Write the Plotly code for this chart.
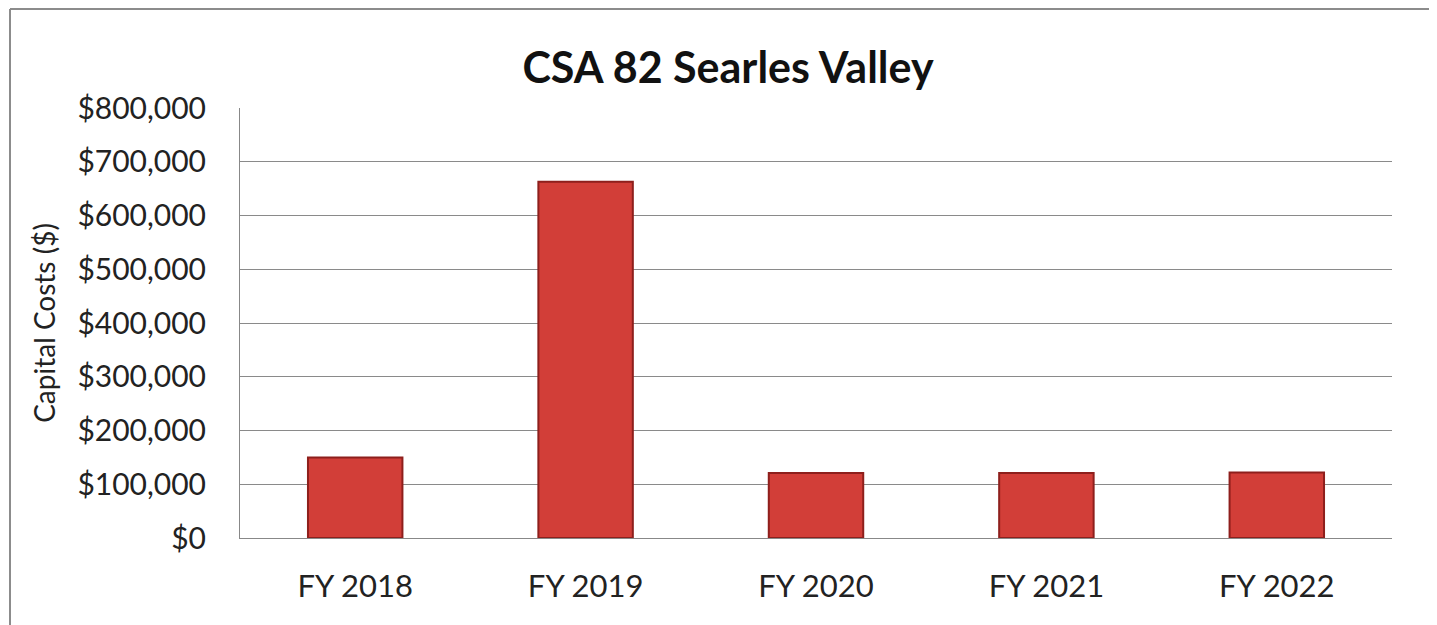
import plotly.graph_objects as go

categories = ["FY 2018", "FY 2019", "FY 2020", "FY 2021", "FY 2022"]
capital_costs = [150000, 663000, 121000, 121000, 122000]
tick_values = [0, 100000, 200000, 300000, 400000, 500000, 600000, 700000, 800000]
tick_labels = ["$0", "$100,000", "$200,000", "$300,000", "$400,000",
               "$500,000", "$600,000", "$700,000", "$800,000"]

# page has an 8px body margin; figure coords = page coords - 8
W, H = 1429, 617
L, R, T, B = 232, 45, 100, 87
pw, ph = W - L - R, H - T - B


def px_x(p):
    return (p - L) / pw


def px_y(p):
    return (H - B - p) / ph


fig = go.Figure()
fig.add_trace(go.Bar(
    x=categories, y=capital_costs, width=0.41,
    marker=dict(color="#d23e38", line=dict(color="#8e1f1c", width=2)),
    hoverinfo="x+y",
))

# outer chart frame: only left and top edges are visible in the reference
fig.add_shape(type="line", xref="paper", yref="paper",
              x0=px_x(2), x1=px_x(2), y0=px_y(700), y1=px_y(1),
              line=dict(color="#8c8c8c", width=2), layer="below")
fig.add_shape(type="line", xref="paper", yref="paper",
              x0=px_x(2), x1=px_x(1700), y0=px_y(1), y1=px_y(1),
              line=dict(color="#8c8c8c", width=2), layer="below")

fig.update_layout(
    width=W, height=H,
    margin=dict(l=L, r=R, t=T, b=B),
    paper_bgcolor="white", plot_bgcolor="white",
    font=dict(family="Lato", color="#222222"),
    title=dict(text="<b>CSA 82 Searles Valley</b>", x=720 / W, xanchor="center",
               y=1 - 60 / H, yanchor="middle", font=dict(size=43, color="#111111")),
    showlegend=False,
    bargap=0.59,
    xaxis=dict(showgrid=False, showline=True, linecolor="#888888", linewidth=1,
               tickfont=dict(size=31), ticks="", ticklabelstandoff=21),
    yaxis=dict(range=[0, 800000], tickvals=tick_values, ticktext=tick_labels,
               showgrid=True, gridcolor="#8a8a8a", gridwidth=1,
               showline=True, linecolor="#888888", linewidth=1,
               tickfont=dict(size=30), ticks="", ticklabelstandoff=27,
               zeroline=False,
               title=dict(text="Capital Costs ($)", font=dict(size=28), standoff=13)),
)

fig.write_html("out.html")
